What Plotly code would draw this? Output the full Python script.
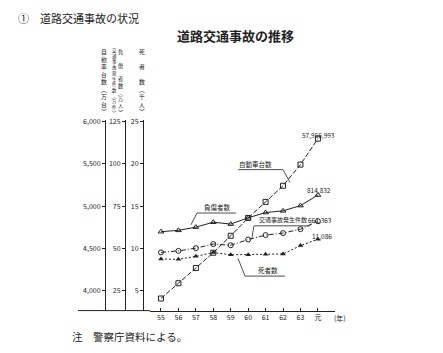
import plotly.graph_objects as go

W, H = 443, 353
years = ["55", "56", "57", "58", "59", "60", "61", "62", "63", "元"]
vehicles = [3910, 4090, 4270, 4450, 4650, 4860, 5050, 5240, 5490, 5796]      # 万台
injured = [59.9, 60.7, 62.6, 65.5, 64.4, 68.1, 71.2, 72.2, 75.3, 81.5]       # 万人
accidents = [47.7, 48.6, 50.2, 52.6, 51.9, 55.3, 57.9, 59.1, 61.4, 66.1]     # 万件
deaths = [8.76, 8.72, 9.07, 9.52, 9.26, 9.26, 9.32, 9.35, 10.34, 11.09]       # 千人

veh_ticks = [4000, 4500, 5000, 5500, 6000]
inj_ticks = [25, 50, 75, 100, 125]
dth_ticks = [5, 10, 15, 20, 25]

FONT = "Noto Sans CJK JP"
C = "#222222"

def px(x):
    return x / W

def py(y):
    return 1 - y / H

fig = go.Figure()
fig.add_trace(go.Scatter(x=years, y=vehicles, yaxis="y", mode="lines+markers",
                         line=dict(color=C, width=1, dash="5px,2px"),
                         marker=dict(symbol="square-open", size=5, color=C, line=dict(width=1))))
fig.add_trace(go.Scatter(x=years, y=injured, yaxis="y2", mode="lines+markers",
                         line=dict(color=C, width=1),
                         marker=dict(symbol="triangle-up-open", size=5, color=C, line=dict(width=1))))
fig.add_trace(go.Scatter(x=years, y=accidents, yaxis="y2", mode="lines+markers",
                         line=dict(color=C, width=1, dash="5px,2px,1px,2px"),
                         marker=dict(symbol="circle-open", size=5, color=C, line=dict(width=1))))
fig.add_trace(go.Scatter(x=years, y=deaths, yaxis="y3", mode="lines+markers",
                         line=dict(color=C, width=1, dash="2px,2px"),
                         marker=dict(symbol="triangle-up", size=5, color=C)))

# plot geometry (pixels)
top_px, bot_px = 117, 310
v_lo, v_hi = 3767, 6012
ydom = [py(bot_px), py(top_px)]

def yax(pos, lo, hi, ticks, fmt):
    return dict(domain=ydom, range=[lo, hi], anchor="free", position=px(pos), side="left",
                showline=True, linecolor=C, linewidth=1, ticks="outside", ticklen=3,
                tickcolor=C, tickvals=ticks, tickformat=fmt, showgrid=False, zeroline=False,
                tickfont=dict(size=7, color=C, family=FONT))

fig.update_layout(
    width=W, height=H, margin=dict(l=0, r=0, t=0, b=0),
    paper_bgcolor="white", plot_bgcolor="white", showlegend=False,
    xaxis=dict(domain=[px(150), px(335)], range=[-0.63, 9.98], type="category",
               showline=True, linecolor=C, linewidth=1, ticks="inside", ticklen=3,
               tickcolor=C, showgrid=False, tickfont=dict(size=7, color=C, family=FONT)),
    yaxis=yax(105, v_lo, v_hi, veh_ticks, ",d"),
    yaxis2=dict(**yax(125, (v_lo - 3500) / 20, (v_hi - 3500) / 20, inj_ticks, "d"), overlaying="y"),
    yaxis3=dict(**yax(143, (v_lo - 3500) / 100, (v_hi - 3500) / 100, dth_ticks, "d"), overlaying="y"),
)

ann = []
def text(x, y, s, size=7, bold=False, xanchor="center"):
    ann.append(dict(x=px(x), y=py(y), xref="paper", yref="paper", text=("<b>%s</b>" % s) if bold else s,
                    showarrow=False, xanchor=xanchor, yanchor="middle",
                    font=dict(size=size, color=C, family=FONT)))

def vtext(x, y, chars, size):
    text(x, y, "<br>".join(chars), size=size)

text(16, 13, "①　道路交通事故の状況", size=11, xanchor="left")
text(236, 31, "道路交通事故の推移", size=13, bold=True)
text(70, 336, "注　警察庁資料による。", size=10.5, xanchor="left")

vtext(104, 78, list("自動車台数︵万台︶"), 5.8)
vtext(114, 78, list("交通事故発生件数︵万件︶"), 4.4)
vtext(121, 78, ["負", "", "傷", "", "者", "数", "︵", "万", "人", "︶"], 5.2)
vtext(142, 78, ["死", "", "者", "", "数", "︵", "千", "人", "︶"], 5.8)

text(332, 318, "(年)", size=7, xanchor="left")
text(318, 132, "57,956,993", size=6.5)
text(256, 161, "自動車台数", size=6.5)
text(319, 188, "814,832", size=6.5)
text(217, 205, "負傷者数", size=6.5)
text(283, 218, "交通事故発生件数", size=6)
text(320, 218, "661,363", size=6.5)
text(322, 234, "11,086", size=6.5)
text(268, 269, "死者数", size=6.5)
fig.update_layout(annotations=ann)

shapes = []
def seg(x0, y0, x1, y1, w=0.8):
    shapes.append(dict(type="line", xref="paper", yref="paper", x0=px(x0), y0=py(y0),
                       x1=px(x1), y1=py(y1), line=dict(color=C, width=w)))

seg(78, 310, 150, 310, 1)            # baseline extension
seg(238, 167, 283, 167)              # 自動車台数 underline/leader
seg(283, 167, 290, 180)
seg(197, 211, 236, 211)              # 負傷者数
seg(197, 211, 191, 223)
seg(254, 224, 310, 224)              # 交通事故発生件数
seg(254, 224, 252, 236)
seg(245, 275, 285, 275)              # 死者数
seg(245, 275, 238, 257)
fig.update_layout(shapes=shapes)

fig.write_html("out.html")
